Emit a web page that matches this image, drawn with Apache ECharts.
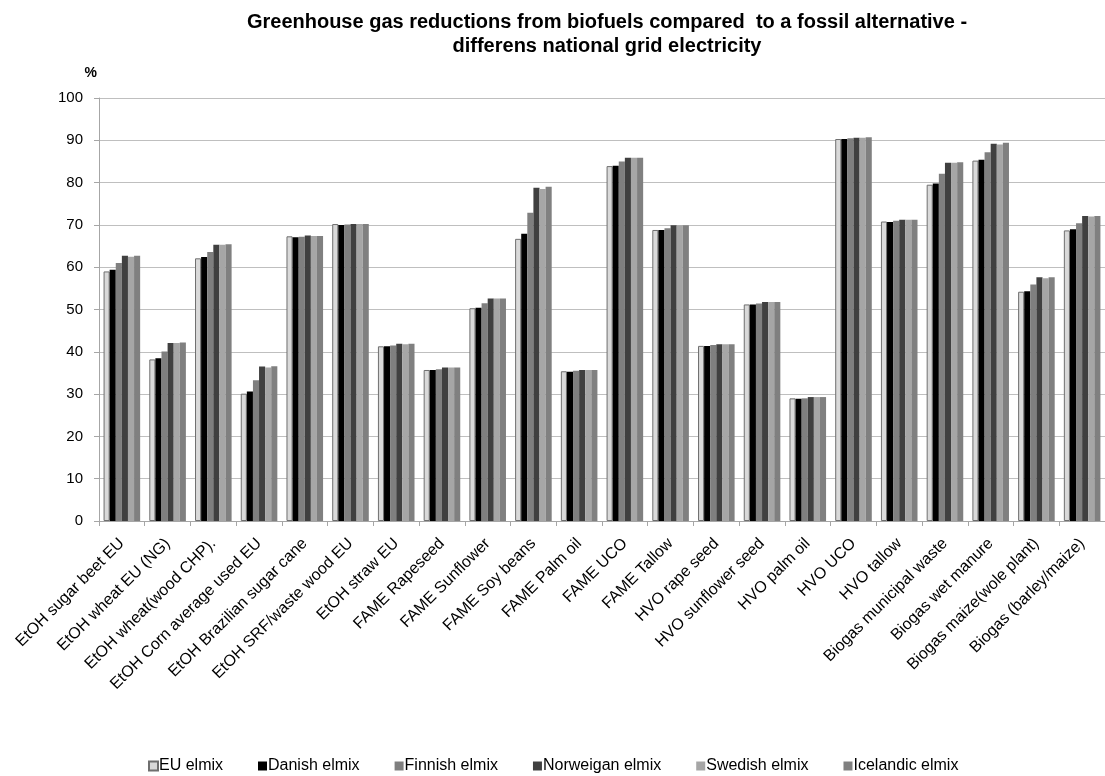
<!DOCTYPE html>
<html>
<head>
<meta charset="utf-8">
<script src="https://cdn.jsdelivr.net/npm/echarts@6/dist/echarts.min.js"></script>
<style>
  html, body { margin: 0; padding: 0; background: #fff; }
  #chart { width: 1105px; height: 776px; }
</style>
</head>
<body>
<div id="chart"></div>
<script>
// Fuel pathways on the category axis
const categories = [
  'EtOH sugar beet EU', 'EtOH wheat EU (NG)', 'EtOH wheat(wood CHP).',
  'EtOH Corn average used EU', 'EtOH Brazilian sugar cane', 'EtOH SRF/waste wood EU',
  'EtOH straw EU', 'FAME Rapeseed', 'FAME Sunflower', 'FAME Soy beans',
  'FAME Palm oil', 'FAME UCO', 'FAME Tallow', 'HVO rape seed',
  'HVO sunflower seed', 'HVO palm oil', 'HVO UCO', 'HVO tallow',
  'Biogas municipal waste', 'Biogas wet manure', 'Biogas maize(wole plant)',
  'Biogas (barley/maize)'
];

// GHG reduction (%) per electricity mix
const euElmix        = [59.0, 38.2, 62.1, 30.1, 67.3, 70.2, 41.3, 35.7, 50.3, 66.7, 35.4, 83.9, 68.8, 41.4, 51.2, 29.0, 90.3, 70.8, 79.5, 85.2, 54.2, 68.7];
const danishElmix    = [59.4, 38.5, 62.4, 30.6, 67.1, 70.0, 41.3, 35.7, 50.4, 67.9, 35.3, 84.0, 68.8, 41.4, 51.2, 28.9, 90.3, 70.7, 79.8, 85.4, 54.3, 69.0];
const finnishElmix   = [61.0, 40.1, 63.6, 33.3, 67.2, 70.1, 41.5, 35.9, 51.5, 72.9, 35.5, 85.0, 69.2, 41.6, 51.4, 29.0, 90.5, 71.0, 82.1, 87.2, 55.9, 70.4];
const norwegianElmix = [62.7, 42.1, 65.3, 36.5, 67.5, 70.2, 41.9, 36.3, 52.6, 78.8, 35.7, 85.9, 69.9, 41.8, 51.8, 29.3, 90.6, 71.2, 84.7, 89.2, 57.6, 72.1];
const swedishElmix   = [62.5, 42.1, 65.3, 36.3, 67.4, 70.2, 41.8, 36.3, 52.6, 78.5, 35.7, 85.9, 69.9, 41.8, 51.8, 29.3, 90.6, 71.2, 84.7, 89.0, 57.4, 72.0];
const icelandicElmix = [62.7, 42.2, 65.4, 36.6, 67.4, 70.2, 41.9, 36.3, 52.6, 79.0, 35.7, 85.9, 69.9, 41.8, 51.8, 29.3, 90.7, 71.2, 84.8, 89.4, 57.6, 72.1];

const seriesNames = ['EU elmix', 'Danish elmix', 'Finnish elmix', 'Norweigan elmix', 'Swedish elmix', 'Icelandic elmix'];
const seriesData = [euElmix, danishElmix, finnishElmix, norwegianElmix, swedishElmix, icelandicElmix];
const seriesColors = ['#d9d9d9', '#000000', '#7f7f7f', '#404040', '#a6a6a6', '#808080'];

const font = 'Liberation Sans, Arial, sans-serif';

const chart = echarts.init(document.getElementById('chart'), null, { renderer: 'canvas' });

const series = seriesNames.map((name, i) => ({
  name: name,
  type: 'bar',
  data: seriesData[i],
  barGap: '0%',
  barCategoryGap: '20%',
  itemStyle: {
    color: seriesColors[i],
    borderColor: i === 0 ? '#6f6f6f' : seriesColors[i],
    borderWidth: i === 0 ? 1 : 0
  },
  emphasis: { disabled: true }
}));

chart.setOption({
  animation: false,
  backgroundColor: '#ffffff',
  title: {
    text: 'Greenhouse gas reductions from biofuels compared  to a fossil alternative -\ndifferens national grid electricity',
    left: 602,
    top: 5,
    textAlign: 'center',
    textStyle: {
      fontFamily: font,
      fontWeight: 'bold',
      fontSize: 20,
      lineHeight: 24,
      color: '#000'
    }
  },
  legend: {
    data: seriesNames,
    left: 143,
    top: 753,
    icon: 'rect',
    itemWidth: 9,
    itemHeight: 9,
    itemGap: 35,
    textStyle: { fontFamily: font, fontSize: 16, color: '#000', padding: [0, 0, 0, -4] }
  },
  grid: {
    left: 99,
    top: 98,
    width: 1009,
    height: 423
  },
  xAxis: {
    type: 'category',
    data: categories,
    axisLine: { lineStyle: { color: '#a6a6a6', width: 1 } },
    axisTick: { show: true, inside: false, length: 5, lineStyle: { color: '#a6a6a6' } },
    axisLabel: {
      rotate: 45,
      interval: 0,
      margin: 20,
      fontFamily: font,
      fontSize: 16,
      color: '#000'
    },
    splitLine: { show: false }
  },
  yAxis: {
    type: 'value',
    min: 0,
    max: 100,
    interval: 10,
    name: '%',
    nameLocation: 'end',
    nameGap: 18,
    nameTextStyle: {
      fontFamily: font,
      fontWeight: 'bold',
      fontSize: 14,
      color: '#000',
      align: 'right',
      padding: [0, 2, 0, 0]
    },
    axisLine: { show: true, lineStyle: { color: '#a6a6a6', width: 1 } },
    axisTick: { show: true, length: 5, lineStyle: { color: '#a6a6a6' } },
    axisLabel: {
      margin: 16,
      fontFamily: font,
      fontSize: 15,
      color: '#000'
    },
    splitLine: { show: true, lineStyle: { color: '#bfbfbf', width: 1 } }
  },
  series: series
});
</script>
</body>
</html>
